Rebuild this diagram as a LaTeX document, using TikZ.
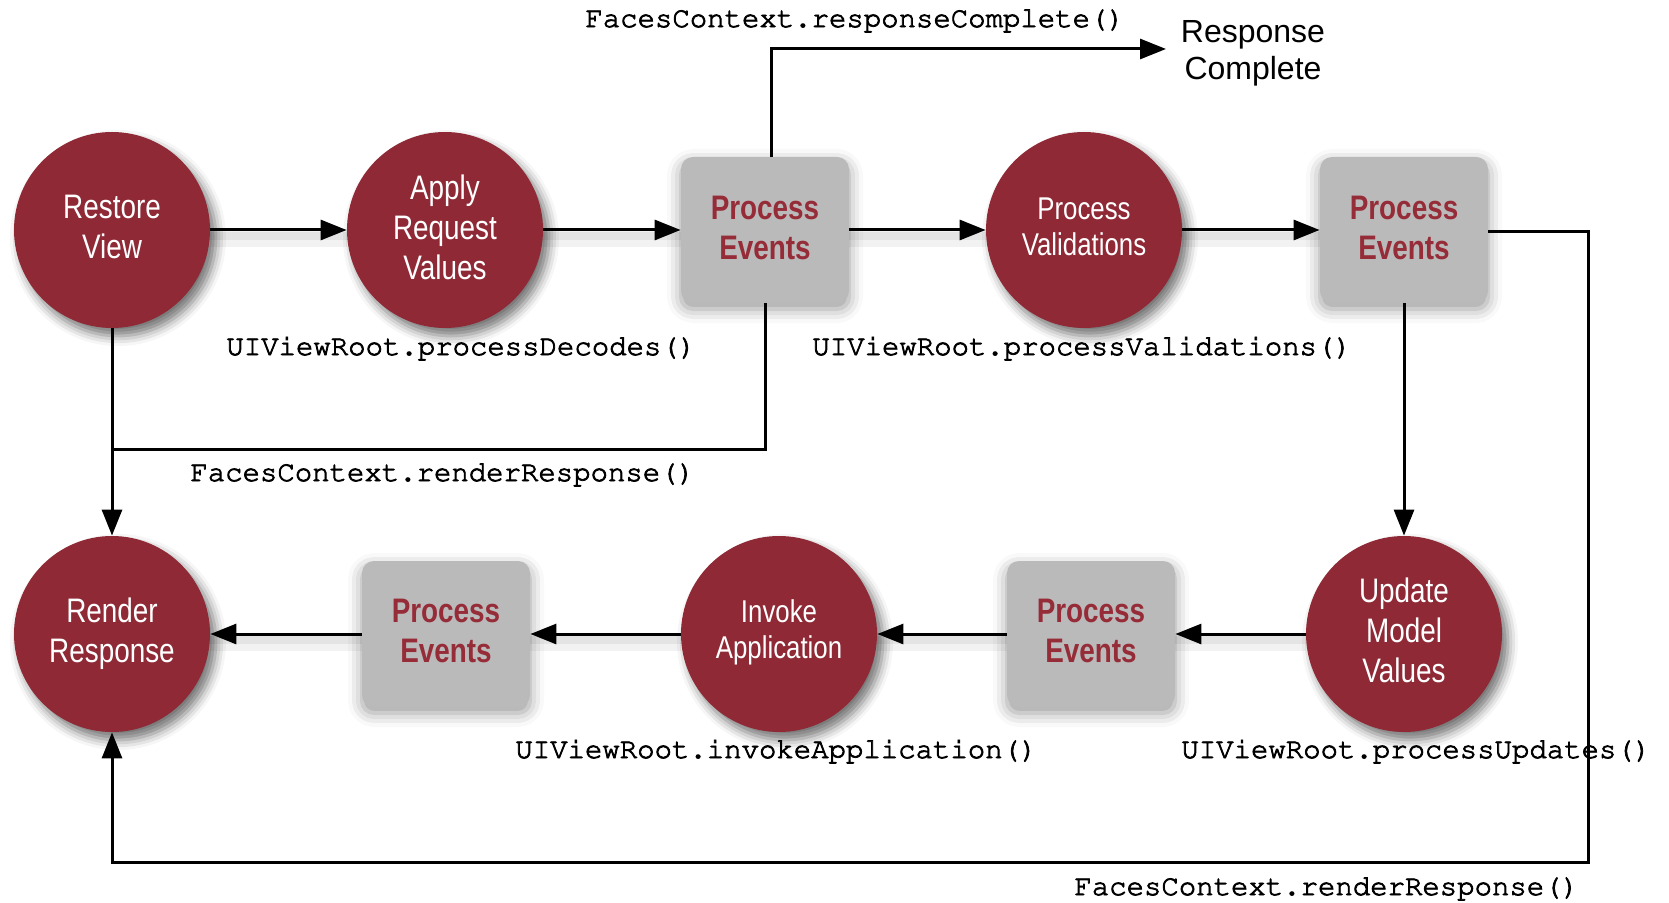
\documentclass[tikz,border=0pt]{standalone}
\usepackage{fontspec}
\setmainfont{Liberation Sans}
\newfontfamily\narrowfont[FakeStretch=0.82]{Liberation Sans}
\newcommand\codefont{\fontencoding{T1}\fontfamily{pcr}\fontseries{m}\fontshape{n}\selectfont}
\newcommand\heavytext[1]{\special{pdf:literal direct 2 Tr 0.38 w}#1\special{pdf:literal direct 0 Tr}}
\newcommand\dn[1]{\rule[-#1]{0pt}{0pt}}
\usetikzlibrary{arrows.meta,shadows.blur}
\definecolor{jsfred}{RGB}{142,41,53}
\definecolor{evtred}{RGB}{150,44,56}
\definecolor{evtgray}{RGB}{186,186,186}
\tikzset{
  phase/.style={circle, minimum size=98pt, inner sep=0pt, fill=jsfred, text=white, align=center,
    font=\narrowfont\fontsize{17}{20}\selectfont,
    blur shadow={shadow xshift=3pt, shadow yshift=-4pt, shadow blur radius=5pt, shadow opacity=55}},
  phasesm/.style={phase, font=\narrowfont\fontsize{15.75}{18}\selectfont},
  evtbox/.style={rectangle, rounded corners=6pt, minimum width=84pt, minimum height=73pt, inner sep=0pt,
    fill=evtgray, text=evtred, align=center,
    font=\narrowfont\bfseries\fontsize{17}{20}\selectfont,
    blur shadow={shadow xshift=0pt, shadow yshift=-3pt, shadow blur radius=7pt, shadow opacity=40}},
  code/.style={anchor=west, inner sep=0pt, font=\codefont\fontsize{14.5}{16}\selectfont},
  conn/.style={line width=1.5pt, -{Triangle[length=13pt,width=10pt]}},
  glow/.style={preaction={draw=black, draw opacity=0.05, line width=9pt, transform canvas={yshift=-4pt}, -},
               preaction={draw=black, draw opacity=0.06, line width=4pt, transform canvas={yshift=-3pt}, -}},
  plain/.style={line width=1.5pt}
}
\begin{document}
\begin{tikzpicture}[x=0.5pt,y=-0.5pt]
\useasboundingbox (0,0) rectangle (1669,903);
% top row
\node[phase] (RV) at (112,230) {Restore\\View\dn{3.2pt}};
\node[phase] (ARV) at (445,230) {Apply\\Request\\Values\dn{3.2pt}};
\node[evtbox] (PE1) at (765,230) {Process\\Events\dn{2.1pt}};
\node[phasesm] (PV) at (1084,230) {Process\\Validations\dn{3.2pt}};
\node[evtbox] (PE2) at (1404,230) {Process\\Events\dn{2.1pt}};
% bottom row
\node[phase] (RR) at (112,634) {Render\\Response};
\node[evtbox] (PE3) at (446,634) {Process\\Events\dn{3.2pt}};
\node[phasesm] (IA) at (779,634) {Invoke\\Application\dn{5.4pt}};
\node[evtbox] (PE4) at (1091,634) {Process\\Events\dn{3.2pt}};
\node[phase] (UMV) at (1404,634) {Update\\Model\\Values\dn{4pt}};
% response complete
\node[align=center, inner sep=0pt, font=\fontsize{16}{18.5}\selectfont] (RC) at (1253,53) {Response\\Complete};
% labels
\node[code] (l1) at (585,20) {\heavytext{FacesContext.responseComplete()}};
\node[code] (l2) at (226,348) {\heavytext{UIViewRoot.processDecodes()}};
\node[code] (l3) at (812,348) {\heavytext{UIViewRoot.processValidations()}};
\node[code] (l4) at (190,474) {\heavytext{FacesContext.renderResponse()}};
\node[code] (l5) at (515,751) {\heavytext{UIViewRoot.invokeApplication()}};
\node[code] (l6) at (1181,751) {\heavytext{UIViewRoot.processUpdates()}};
\node[code] (l7) at (1074,888) {\heavytext{FacesContext.renderResponse()}};
% coordinates
\coordinate (rc) at (1166,49);
\coordinate (j1) at (112,449);
\coordinate (c2) at (1588,862);
\coordinate (c3) at (112,862);
% connectors
\draw[conn,glow] (RV) -- (ARV);
\draw[conn,glow] (ARV) -- (PE1);
\draw[conn,glow] (PE1) -- (PV);
\draw[conn,glow] (PV) -- (PE2);
\draw[conn] (PE2) -- (UMV);
\draw[conn,glow] (UMV) -- (PE4);
\draw[conn,glow] (PE4) -- (IA);
\draw[conn,glow] (IA) -- (PE3);
\draw[conn,glow] (PE3) -- (RR);
\draw[conn] (RV) -- (RR);
\draw[plain] (PE1.south) |- (j1);
\draw[conn] ([xshift=3pt]PE1.north) |- (rc);
\draw[conn] ([yshift=-1pt]PE2.east) -| (c2) -- (c3) -- (RR);
\end{tikzpicture}
\end{document}
